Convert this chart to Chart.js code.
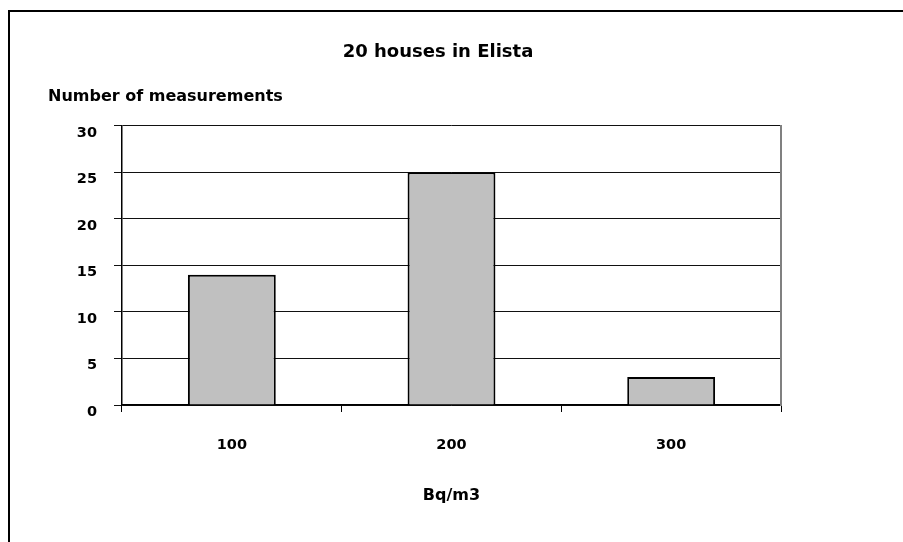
<!DOCTYPE html>
<html>
<head>
<meta charset="utf-8">
<script src="https://cdn.jsdelivr.net/npm/chart.js@4/dist/chart.umd.min.js"></script>
<style>
  html, body { margin: 0; padding: 0; background: #fff; overflow: hidden; }
  #wrap { position: relative; width: 903px; height: 542px; }
  #frame { position: absolute; left: 8px; top: 10px; width: 1000px; height: 1000px;
           border-left: 2px solid #000; border-top: 2px solid #000; }
  canvas { position: absolute; left: 0; top: 0; }
</style>
</head>
<body>
<div id="wrap">
  <div id="frame"></div>
  <canvas id="chart" width="903" height="542"></canvas>
</div>
<script>
// Radon concentration classes and how many measurements fell in each
const categories = ['100', '200', '300'];
const measurements = [14, 25, 3];
const yTicks = [0, 5, 10, 15, 20, 25, 30];

const chartTitle = '20 houses in Elista';
const yTitle = 'Number of measurements';
const xTitle = 'Bq/m3';

const FONT = '"DejaVu Sans", "Liberation Sans", Arial, sans-serif';

new Chart(document.getElementById('chart'), {
  type: 'bar',
  data: {
    labels: categories,
    datasets: [{
      data: measurements,
      backgroundColor: '#c0c0c0',
      borderColor: '#000',
      borderWidth: 2,
      categoryPercentage: 1.0,
      barPercentage: 0.4
    }]
  },
  options: {
    responsive: false,
    animation: false,
    layout: { padding: { left: 48, right: 75, top: 0, bottom: 0 } },
    plugins: {
      legend: { display: false },
      tooltip: { enabled: false },
      title: {
        display: true,
        text: chartTitle,
        color: '#000',
        font: { family: FONT, size: 18, weight: 'bold' },
        padding: { top: 42, bottom: 24 }
      },
      subtitle: {
        display: true,
        text: yTitle,
        align: 'start',
        color: '#000',
        font: { family: FONT, size: 16, weight: 'bold' },
        padding: { top: 0, bottom: 19 }
      }
    },
    scales: {
      x: {
        type: 'category',
        offset: true,
        afterFit: (s) => { s.height = 137; },
        grid: {
          offset: true,
          drawOnChartArea: false,
          drawTicks: true,
          tickLength: 7,
          color: '#000',
          lineWidth: 1
        },
        border: { display: true, color: '#000', width: 1.5 },
        ticks: {
          color: '#000',
          padding: 25,
          font: { family: FONT, size: 14.5, weight: 'bold' }
        },
        title: {
          display: true,
          text: xTitle,
          color: '#000',
          font: { family: FONT, size: 16, weight: 'bold' },
          padding: { top: 0, bottom: 37 }
        }
      },
      y: {
        min: 0,
        max: 30,
        afterFit: (s) => { s.width = 74; },
        afterBuildTicks: (s) => { s.ticks = yTicks.map(v => ({ value: v })); },
        grid: {
          color: '#111',
          lineWidth: 1,
          tickLength: 8,
          drawTicks: true
        },
        border: { display: true, color: '#000', width: 1.5 },
        ticks: {
          color: '#000',
          padding: 17,
          labelOffset: 7,
          font: { family: FONT, size: 14.5, weight: 'bold' }
        }
      },
      yRight: {
        position: 'right',
        min: 0,
        max: 30,
        afterFit: (s) => { s.width = 47; },
        grid: { display: true, drawOnChartArea: false, drawTicks: false },
        border: { display: true, color: '#808080', width: 2 },
        ticks: { display: false }
      }
    }
  }
});
</script>
</body>
</html>
